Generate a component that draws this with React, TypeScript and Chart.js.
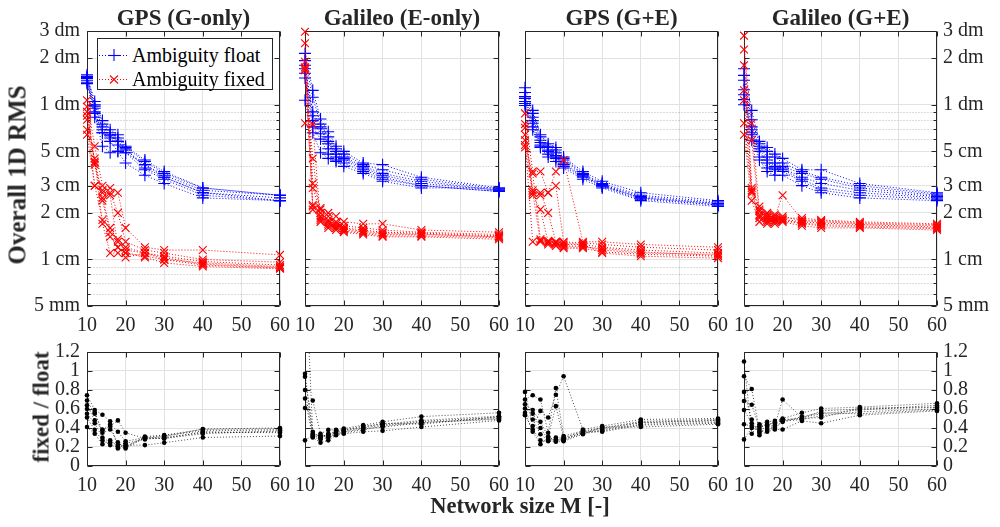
import React, { useEffect, useRef } from 'react';
import { Chart, registerables } from 'chart.js';

Chart.register(...registerables);

// ---------------- data ----------------
const networkSize = [10, 12, 14, 16, 18, 20, 25, 30, 40, 60];
const xTickValues = [10, 20, 30, 40, 50, 60];
const rmsTickValues = [0.5, 1, 2, 3, 5, 10, 20, 30];
const rmsTickLabels = ['5 mm', '1 cm', '2 cm', '3 cm', '5 cm', '1 dm', '2 dm', '3 dm'];
const rmsMinorValues = [0.6, 0.7, 0.8, 0.9, 4, 6, 7, 8, 9];
const ratioTickValues = [0, 0.2, 0.4, 0.6, 0.8, 1, 1.2];
const ratioTickLabels = ['0', '0.2', '0.4', '0.6', '0.8', '1', '1.2'];
const panelTitles = ['GPS (G-only)', 'Galileo (E-only)', 'GPS (G+E)', 'Galileo (G+E)'];
const legendLabels = ['Ambiguity float', 'Ambiguity fixed'];

// RMS values in cm
const gpsGOnlyFloat = [
  [15.6, 10.5, 7.9, 6.9, 6.4, 5.4, 4.4, 3.7, 2.9, 2.6],
  [15.2, 9.8, 6.9, 6.4, 5.8, 5.1, 4.1, 3.5, 2.8, 2.6],
  [14.8, 9.0, 6.6, 6.1, 5.5, 4.9, 4.1, 3.4, 2.7, 2.5],
  [14.4, 8.3, 6.6, 5.8, 5.0, 4.9, 3.8, 3.3, 2.6, 2.4],
  [14.0, 9.5, 7.2, 6.3, 5.8, 5.2, 3.9, 3.4, 2.7, 2.4],
  [13.7, 8.8, 5.4, 4.9, 5.0, 4.2, 3.5, 3.1, 2.5, 2.4],
  [15.0, 10.0, 7.5, 6.6, 6.1, 5.3, 4.3, 3.6, 2.9, 2.6],
];
const gpsGOnlyFixed = [
  [10.7, 5.4, 3.0, 2.9, 2.7, 1.6, 1.2, 1.15, 1.15, 1.07],
  [9.7, 4.2, 2.7, 2.7, 2.0, 1.3, 1.15, 1.1, 1.0, 0.96],
  [9.0, 4.1, 2.4, 1.5, 1.35, 1.2, 1.1, 1.03, 0.93, 0.89],
  [8.0, 3.0, 1.8, 1.4, 1.2, 1.1, 1.03, 0.95, 0.9, 0.87],
  [6.9, 4.5, 1.7, 1.1, 1.1, 1.03, 1.1, 1.0, 0.95, 0.9],
  [6.4, 3.0, 2.8, 2.6, 1.2, 1.1, 1.05, 1.0, 0.92, 0.88],
  [8.5, 4.3, 2.5, 1.6, 1.3, 1.15, 1.1, 1.05, 0.97, 0.92],
];
const gpsGOnlyRatio = [
  [0.69, 0.55, 0.38, 0.42, 0.48, 0.35, 0.29, 0.31, 0.39, 0.40],
  [0.64, 0.48, 0.38, 0.44, 0.36, 0.26, 0.30, 0.32, 0.37, 0.38],
  [0.55, 0.45, 0.30, 0.25, 0.22, 0.24, 0.28, 0.30, 0.35, 0.36],
  [0.51, 0.38, 0.27, 0.22, 0.20, 0.21, 0.29, 0.29, 0.34, 0.37],
  [0.745, 0.59, 0.54, 0.47, 0.185, 0.20, 0.31, 0.325, 0.385, 0.39],
  [0.41, 0.34, 0.23, 0.27, 0.21, 0.22, 0.22, 0.245, 0.30, 0.315],
  [0.60, 0.56, 0.35, 0.385, 0.25, 0.185, 0.30, 0.29, 0.36, 0.35],
];

const galEOnlyFloat = [
  [21.5, 12.4, 8.1, 6.7, 5.4, 5.0, 4.2, 4.1, 3.4, 2.9],
  [19.3, 11.2, 7.5, 6.2, 5.2, 4.8, 4.1, 3.8, 3.3, 2.85],
  [18.0, 9.0, 7.2, 5.8, 5.0, 4.6, 4.0, 3.6, 3.2, 2.8],
  [17.1, 8.5, 7.0, 5.6, 4.8, 4.5, 3.9, 3.5, 3.1, 2.8],
  [16.0, 7.9, 6.5, 5.2, 4.6, 4.4, 3.8, 3.4, 3.0, 2.75],
  [14.9, 7.2, 6.0, 4.8, 4.4, 4.2, 3.7, 3.3, 3.0, 2.75],
  [10.7, 6.6, 4.9, 4.5, 4.3, 4.0, 3.6, 3.2, 2.9, 2.9],
];
const galEOnlyFixed = [
  [29.7, 2.25, 2.1, 2.0, 1.9, 1.75, 1.7, 1.7, 1.55, 1.5],
  [25.0, 3.1, 2.15, 1.9, 1.75, 1.65, 1.6, 1.55, 1.5, 1.45],
  [19.0, 2.9, 2.0, 1.8, 1.7, 1.6, 1.55, 1.5, 1.48, 1.42],
  [17.1, 2.2, 1.9, 1.75, 1.65, 1.58, 1.52, 1.48, 1.46, 1.4],
  [16.7, 4.5, 1.85, 1.7, 1.6, 1.55, 1.5, 1.45, 1.45, 1.4],
  [17.5, 2.1, 1.8, 1.65, 1.6, 1.52, 1.48, 1.42, 1.42, 1.38],
  [7.6, 7.5, 1.75, 1.6, 1.55, 1.5, 1.45, 1.4, 1.4, 1.35],
];
const galEOnlyRatio = [
  [2.2, 0.34, 0.31, 0.33, 0.35, 0.37, 0.40, 0.43, 0.47, 0.51],
  [0.97, 0.36, 0.30, 0.34, 0.36, 0.38, 0.42, 0.44, 0.48, 0.525],
  [0.94, 0.33, 0.32, 0.31, 0.34, 0.36, 0.39, 0.41, 0.455, 0.50],
  [0.80, 0.31, 0.28, 0.30, 0.33, 0.35, 0.38, 0.42, 0.46, 0.49],
  [0.71, 0.30, 0.245, 0.27, 0.325, 0.34, 0.36, 0.37, 0.41, 0.48],
  [0.61, 0.69, 0.34, 0.38, 0.38, 0.395, 0.43, 0.465, 0.52, 0.56],
  [0.27, 0.32, 0.30, 0.32, 0.37, 0.38, 0.405, 0.45, 0.44, 0.52],
];

const gpsGEFloat = [
  [12.9, 9.2, 6.4, 5.6, 5.3, 4.6, 3.7, 3.2, 2.7, 2.4],
  [12.0, 8.8, 6.2, 5.4, 5.1, 4.5, 3.6, 3.1, 2.6, 2.35],
  [11.3, 8.3, 5.9, 5.3, 4.9, 4.4, 3.55, 3.05, 2.55, 2.3],
  [11.0, 7.9, 5.7, 5.1, 4.7, 4.2, 3.5, 3.0, 2.5, 2.3],
  [10.5, 7.6, 5.5, 5.0, 4.6, 4.1, 3.45, 3.0, 2.5, 2.25],
  [10.2, 7.2, 5.4, 4.8, 4.5, 4.0, 3.4, 2.95, 2.45, 2.25],
  [9.9, 6.9, 5.3, 4.6, 4.3, 3.9, 3.3, 2.9, 2.4, 2.2],
];
const gpsGEFixed = [
  [8.8, 3.7, 3.7, 2.7, 3.7, 4.4, 1.3, 1.3, 1.25, 1.2],
  [7.5, 2.7, 2.7, 2.0, 1.3, 1.25, 1.25, 1.2, 1.15, 1.1],
  [7.1, 2.8, 2.6, 2.7, 3.0, 1.3, 1.28, 1.25, 1.2, 1.15],
  [6.4, 2.6, 2.1, 1.3, 1.28, 1.22, 1.22, 1.15, 1.1, 1.08],
  [5.9, 1.3, 1.32, 1.32, 1.25, 1.2, 1.2, 1.18, 1.12, 1.06],
  [5.5, 3.6, 1.35, 1.28, 1.3, 1.18, 1.18, 1.12, 1.08, 1.05],
  [5.3, 2.7, 1.3, 1.25, 1.22, 1.28, 1.25, 1.1, 1.05, 1.02],
];
const gpsGERatio = [
  [0.78, 0.42, 0.58, 0.51, 0.75, 0.945, 0.385, 0.42, 0.49, 0.50],
  [0.70, 0.745, 0.70, 0.35, 0.82, 0.315, 0.37, 0.40, 0.47, 0.49],
  [0.65, 0.59, 0.465, 0.31, 0.63, 0.30, 0.36, 0.395, 0.46, 0.48],
  [0.605, 0.55, 0.40, 0.28, 0.30, 0.29, 0.35, 0.38, 0.455, 0.475],
  [0.56, 0.36, 0.23, 0.30, 0.27, 0.28, 0.34, 0.37, 0.44, 0.46],
  [0.54, 0.49, 0.335, 0.27, 0.28, 0.27, 0.36, 0.36, 0.43, 0.45],
  [0.535, 0.385, 0.27, 0.26, 0.255, 0.26, 0.335, 0.41, 0.41, 0.44],
];

const galGEFloat = [
  [17.1, 9.2, 5.8, 5.3, 4.8, 4.5, 3.8, 3.8, 3.1, 2.7],
  [15.5, 8.0, 5.6, 5.0, 4.6, 4.2, 3.7, 3.4, 3.0, 2.65],
  [14.4, 7.2, 5.4, 4.6, 4.2, 4.0, 3.6, 3.3, 2.9, 2.6],
  [12.5, 6.9, 5.2, 4.4, 4.0, 3.9, 3.4, 3.1, 2.8, 2.55],
  [11.6, 6.6, 5.0, 4.2, 3.9, 3.8, 3.3, 2.9, 2.7, 2.5],
  [10.8, 6.4, 4.6, 3.9, 3.8, 3.7, 3.2, 2.8, 2.6, 2.45],
  [10.0, 5.9, 4.4, 3.7, 3.5, 3.5, 3.0, 2.7, 2.5, 2.4],
];
const galGEFixed = [
  [28.0, 2.8, 2.2, 2.0, 1.95, 1.85, 1.85, 1.8, 1.75, 1.7],
  [22.8, 7.6, 2.05, 1.9, 1.9, 2.6, 1.8, 1.78, 1.72, 1.68],
  [18.0, 2.9, 2.1, 1.95, 1.85, 1.9, 1.78, 1.75, 1.7, 1.65],
  [12.4, 5.9, 1.95, 1.85, 1.8, 1.82, 1.75, 1.72, 1.68, 1.62],
  [10.7, 2.7, 1.9, 1.8, 1.8, 1.8, 1.72, 1.68, 1.65, 1.6],
  [7.6, 2.75, 1.85, 1.75, 1.75, 1.78, 1.7, 1.65, 1.62, 1.58],
  [6.4, 2.4, 1.75, 1.7, 1.7, 1.75, 1.65, 1.6, 1.6, 1.55],
];
const galGERatio = [
  [1.10, 0.34, 0.44, 0.465, 0.475, 0.50, 0.56, 0.605, 0.62, 0.66],
  [0.945, 0.81, 0.38, 0.41, 0.43, 0.70, 0.51, 0.55, 0.59, 0.64],
  [0.78, 0.49, 0.325, 0.36, 0.385, 0.385, 0.475, 0.45, 0.535, 0.58],
  [0.685, 0.645, 0.40, 0.44, 0.45, 0.48, 0.50, 0.58, 0.60, 0.615],
  [0.59, 0.45, 0.36, 0.39, 0.41, 0.47, 0.49, 0.53, 0.57, 0.60],
  [0.44, 0.42, 0.35, 0.38, 0.40, 0.465, 0.52, 0.56, 0.55, 0.59],
  [0.28, 0.40, 0.42, 0.43, 0.46, 0.49, 0.50, 0.51, 0.61, 0.62],
];

const floatByPanel = [gpsGOnlyFloat, galEOnlyFloat, gpsGEFloat, galGEFloat];
const fixedByPanel = [gpsGOnlyFixed, galEOnlyFixed, gpsGEFixed, galGEFixed];
const ratioByPanel = [gpsGOnlyRatio, galEOnlyRatio, gpsGERatio, galGERatio];

// ---------------- layout / style ----------------
const FONT = '"Liberation Serif", "Times New Roman", serif';
const TEXT = '#262626';
const GRID = '#e2e2e2';
const FLOAT_COLOR = '#0000ff';
const FIXED_COLOR = '#ff0000';
const COLS = [
  { left: 87, width: 193 },
  { left: 305, width: 194 },
  { left: 525, width: 193 },
  { left: 744, width: 193 },
];
const ROW_TOP = { top: 31, height: 275 };
const ROW_BOTTOM = { top: 352, height: 114 };
const PAD_T = 12;
const PAD_B = 40;

const framePlugin = {
  id: 'frame',
  beforeDatasetsDraw(chart: any, _args: any, opts: any) {
    const { ctx, chartArea: a } = chart;
    const xs = chart.scales.x;
    const ys = chart.scales.y;
    const L = a.left + 0.5, R = a.right - 0.5, T = a.top + 0.5, B = a.bottom - 0.5;
    ctx.save();
    if (opts.yMinor && opts.yMinor.length) {
      ctx.strokeStyle = 'rgba(0,0,0,0.28)';
      ctx.lineWidth = 1;
      ctx.setLineDash([1, 2]);
      ctx.beginPath();
      for (const v of opts.yMinor) {
        const py = Math.round(ys.getPixelForValue(v)) + 0.5;
        ctx.moveTo(L, py);
        ctx.lineTo(R, py);
      }
      ctx.stroke();
      ctx.setLineDash([]);
    }
    ctx.strokeStyle = TEXT;
    ctx.lineWidth = 1;
    ctx.beginPath();
    ctx.rect(L, T, R - L, B - T);
    for (const v of opts.xTicks) {
      const px = Math.round(xs.getPixelForValue(v)) + 0.5;
      ctx.moveTo(px, B); ctx.lineTo(px, B - 5);
      ctx.moveTo(px, T); ctx.lineTo(px, T + 5);
    }
    for (const v of opts.yMajor) {
      const py = Math.round(ys.getPixelForValue(v)) + 0.5;
      ctx.moveTo(L, py); ctx.lineTo(L + 5, py);
      ctx.moveTo(R, py); ctx.lineTo(R - 5, py);
    }
    for (const v of opts.yMinor || []) {
      const py = Math.round(ys.getPixelForValue(v)) + 0.5;
      ctx.moveTo(L, py); ctx.lineTo(L + 3, py);
      ctx.moveTo(R, py); ctx.lineTo(R - 3, py);
    }
    ctx.stroke();
    ctx.restore();
  },
};

type PanelProps = { col: number; kind: 'rms' | 'ratio' };

function Panel({ col, kind }: PanelProps) {
  const ref = useRef<HTMLCanvasElement>(null);
  const isRms = kind === 'rms';
  const row = isRms ? ROW_TOP : ROW_BOTTOM;
  const c = COLS[col];
  const showLeft = col === 0;
  const showRight = col === 3;
  const padL = showLeft ? 87 : 20;
  const padR = showRight ? 63 : 20;
  const cw = c.width + padL + padR;
  const ch = row.height + PAD_T + PAD_B;

  useEffect(() => {
    const canvas = ref.current;
    if (!canvas) return;
    const majorVals = isRms ? rmsTickValues : ratioTickValues;
    const majorLabels = isRms ? rmsTickLabels : ratioTickLabels;
    const labelFor = (v: number) => {
      const i = majorVals.findIndex((m) => Math.abs(m - v) < 1e-9);
      return i >= 0 ? majorLabels[i] : '';
    };
    const fitTo = (w: number) => (s: any) => {
      s.width = w;
      s.paddingTop = 0;
      s.paddingBottom = 0;
    };
    const tickFont = { family: FONT, size: 20 };
    const yBase: any = {
      type: isRms ? 'logarithmic' : 'linear',
      min: isRms ? 0.5 : 0,
      max: isRms ? 30 : 1.2,
      afterBuildTicks: (s: any) => {
        s.ticks = majorVals.map((v) => ({ value: v }));
      },
      border: { display: false },
    };
    const scales: any = {
      x: {
        type: 'linear',
        min: 10,
        max: 60,
        afterBuildTicks: (s: any) => {
          s.ticks = xTickValues.map((v) => ({ value: v }));
        },
        grid: { color: GRID, drawTicks: false },
        border: { display: false },
        ticks: {
          font: tickFont,
          color: TEXT,
          padding: 8,
          maxRotation: 0,
          autoSkip: false,
          callback: (v: any) => String(v),
        },
        afterFit: (s: any) => {
          s.height = PAD_B;
          s.paddingLeft = 0;
          s.paddingRight = 0;
        },
      },
      y: {
        ...yBase,
        position: 'left',
        grid: { color: GRID, drawTicks: false },
        ticks: {
          display: showLeft,
          font: tickFont,
          color: TEXT,
          padding: 7,
          autoSkip: false,
          callback: (v: any) => labelFor(Number(v)),
        },
        afterFit: fitTo(padL),
      },
    };
    if (showRight) {
      scales.yRight = {
        ...yBase,
        position: 'right',
        grid: { display: false, drawTicks: false },
        ticks: {
          display: true,
          font: tickFont,
          color: TEXT,
          padding: 6,
          autoSkip: false,
          callback: (v: any) => labelFor(Number(v)),
        },
        afterFit: fitTo(padR),
      };
    }

    const toPoints = (series: number[]) => series.map((v, i) => ({ x: networkSize[i], y: v }));
    let datasets: any[];
    if (isRms) {
      const fixed = fixedByPanel[col].map((s) => ({
        data: toPoints(s),
        borderColor: FIXED_COLOR,
        borderWidth: 1,
        borderDash: [1, 2],
        pointStyle: 'crossRot',
        pointRadius: 5.5,
        pointBorderColor: FIXED_COLOR,
        pointBorderWidth: 1.1,
        pointBackgroundColor: FIXED_COLOR,
        fill: false,
        tension: 0,
        clip: { left: 10, right: 10, top: 10, bottom: 10 },
      }));
      const flt = floatByPanel[col].map((s) => ({
        data: toPoints(s),
        borderColor: FLOAT_COLOR,
        borderWidth: 1,
        borderDash: [1, 2],
        pointStyle: 'cross',
        pointRadius: 6,
        pointBorderColor: FLOAT_COLOR,
        pointBorderWidth: 1.1,
        pointBackgroundColor: FLOAT_COLOR,
        fill: false,
        tension: 0,
        clip: { left: 10, right: 10, top: 10, bottom: 10 },
      }));
      datasets = [...fixed, ...flt];
    } else {
      datasets = ratioByPanel[col].map((s) => ({
        data: toPoints(s),
        borderColor: 'rgba(0,0,0,0.7)',
        borderWidth: 1,
        borderDash: [1, 2],
        pointStyle: 'circle',
        pointRadius: 2.3,
        pointBorderWidth: 0,
        pointBackgroundColor: '#000',
        fill: false,
        tension: 0,
        clip: { left: 10, right: 10, top: 0, bottom: 10 },
      }));
    }

    const chart = new Chart(canvas, {
      type: 'line',
      data: { datasets },
      options: {
        animation: false,
        responsive: false,
        maintainAspectRatio: false,
        devicePixelRatio: 1,
        events: [],
        layout: { padding: { left: 0, right: showRight ? 0 : padR, top: PAD_T, bottom: 0 } },
        scales,
        plugins: {
          legend: { display: false },
          tooltip: { enabled: false },
          frame: {
            xTicks: xTickValues,
            yMajor: isRms ? rmsTickValues : ratioTickValues,
            yMinor: isRms ? rmsMinorValues : [],
          },
        } as any,
      } as any,
      plugins: [framePlugin],
    });
    return () => chart.destroy();
  }, [col, kind]);

  return (
    <canvas
      ref={ref}
      width={cw}
      height={ch}
      style={{
        position: 'absolute',
        left: c.left - padL,
        top: row.top - PAD_T,
        width: cw,
        height: ch,
      }}
    />
  );
}

function LegendGlyph({ color, cross }: { color: string; cross: boolean }) {
  return (
    <svg width={32} height={16} style={{ position: 'absolute', left: 0, top: 0 }}>
      <line x1={1} y1={8.5} x2={31} y2={8.5} stroke={color} strokeWidth={1} strokeDasharray="1 2" />
      {cross ? (
        <g stroke={color} strokeWidth={1.1}>
          <line x1={16} y1={2} x2={16} y2={14} />
          <line x1={10} y1={8.5} x2={22} y2={8.5} />
        </g>
      ) : (
        <g stroke={color} strokeWidth={1.1}>
          <line x1={12} y1={4.5} x2={20} y2={12.5} />
          <line x1={20} y1={4.5} x2={12} y2={12.5} />
        </g>
      )}
    </svg>
  );
}

export default function App() {
  const boldLabel: React.CSSProperties = {
    position: 'absolute',
    fontFamily: FONT,
    fontWeight: 'bold',
    color: TEXT,
    whiteSpace: 'nowrap',
  };
  return (
    <div
      style={{
        position: 'absolute',
        left: 0,
        top: 0,
        width: 1000,
        height: 527,
        background: '#fff',
        overflow: 'hidden',
      }}
    >
      {COLS.map((c, i) => (
        <Panel key={'t' + i} col={i} kind="rms" />
      ))}
      {COLS.map((c, i) => (
        <Panel key={'b' + i} col={i} kind="ratio" />
      ))}
      {COLS.map((c, i) => (
        <div
          key={'title' + i}
          style={{
            ...boldLabel,
            fontSize: 23,
            lineHeight: '23px',
            left: c.left,
            width: c.width,
            top: 6,
            textAlign: 'center',
          }}
        >
          {panelTitles[i]}
        </div>
      ))}
      <div
        style={{
          ...boldLabel,
          fontSize: 25,
          lineHeight: '25px',
          left: 17,
          top: 175,
          transform: 'translate(-50%, -50%) rotate(-90deg)',
        }}
      >
        Overall 1D RMS
      </div>
      <div
        style={{
          ...boldLabel,
          fontSize: 23,
          lineHeight: '23px',
          left: 41,
          top: 407,
          transform: 'translate(-50%, -50%) rotate(-90deg)',
        }}
      >
        fixed / float
      </div>
      <div
        style={{
          ...boldLabel,
          fontSize: 22.5,
          lineHeight: '22px',
          left: 520,
          top: 495,
          transform: 'translateX(-50%)',
        }}
      >
        Network size M [-]
      </div>
      {/* legend */}
      <div
        style={{
          position: 'absolute',
          left: 97,
          top: 38,
          width: 174,
          height: 50,
          border: `1px solid ${TEXT}`,
          background: '#fff',
        }}
      >
        {legendLabels.map((lab, i) => (
          <div
            key={lab}
            style={{ position: 'absolute', left: 0, top: 6 + i * 24, width: 172, height: 20 }}
          >
            <div style={{ position: 'absolute', left: 0, top: 2 }}>
              <LegendGlyph color={i === 0 ? FLOAT_COLOR : FIXED_COLOR} cross={i === 0} />
            </div>
            <div
              style={{
                position: 'absolute',
                left: 34,
                top: 0,
                fontFamily: FONT,
                fontSize: 20,
                lineHeight: '20px',
                color: '#000',
                whiteSpace: 'nowrap',
              }}
            >
              {lab}
            </div>
          </div>
        ))}
      </div>
    </div>
  );
}
